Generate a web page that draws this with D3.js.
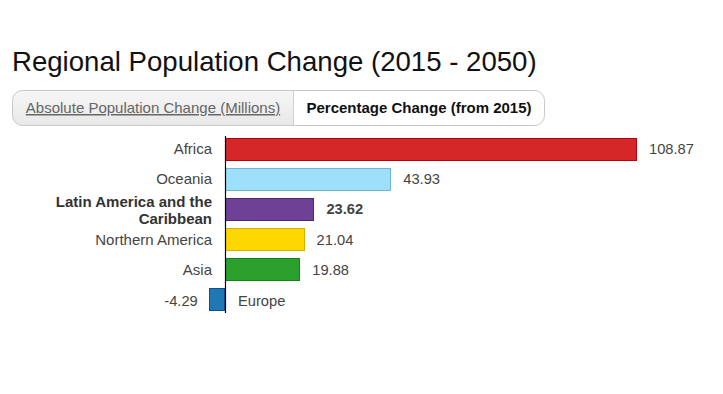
<!DOCTYPE html>
<html><head><meta charset="utf-8">
<script src="https://cdn.jsdelivr.net/npm/d3@7"></script>
<style>
body{margin:0;background:#fff;font-family:"Liberation Sans",Arial,sans-serif;}
</style></head>
<body>
<svg id="c" width="723" height="394"></svg>
<script>
const regions = ["Africa","Oceania","Latin America and the Caribbean","Northern America","Asia","Europe"];
const values = [108.87, 43.93, 23.62, 21.04, 19.88, -4.29];
const fills = ["#d62728","#9edffb","#6e4196","#ffd700","#2ca02c","#1f77b4"];
const strokes = ["#b5000d","#6fb3d9","#4b2a73","#d9b000","#1a7f1a","#0f4f8c"];
const highlighted = "Latin America and the Caribbean";
const tabs = ["Absolute Population Change (Millions)","Percentage Change (from 2015)"];

const fmt = v => d3.format(".2f")(v).replace("\u2212","-");
const svg = d3.select("#c");
svg.append("text").attr("x",12).attr("y",71).attr("font-size",27.6).attr("fill","#111")
  .text("Regional Population Change (2015 - 2050)");

// tabs
const tg = svg.append("g");
tg.append("defs").append("linearGradient").attr("id","tabg").attr("x1",0).attr("x2",0).attr("y1",0).attr("y2",1)
  .selectAll("stop").data([["0%","#f6f6f6"],["100%","#e8e8e8"]]).join("stop")
  .attr("offset",d=>d[0]).attr("stop-color",d=>d[1]);
const tx0=12.5, tx1=293.5, tx2=544.5, ty0=90.5, ty1=125.5, r=10;
tg.append("path").attr("d",`M${tx1},${ty0} H${tx0+r} A${r},${r} 0 0 0 ${tx0},${ty0+r} V${ty1-r} A${r},${r} 0 0 0 ${tx0+r},${ty1} H${tx1} Z`)
  .attr("fill","url(#tabg)");
tg.append("path").attr("d",`M${tx0+r},${ty0} H${tx2-r} A${r},${r} 0 0 1 ${tx2},${ty0+r} V${ty1-r} A${r},${r} 0 0 1 ${tx2-r},${ty1} H${tx0+r} A${r},${r} 0 0 1 ${tx0},${ty1-r} V${ty0+r} A${r},${r} 0 0 1 ${tx0+r},${ty0} Z`)
  .attr("fill","none").attr("stroke","#c8c8c8");
tg.append("line").attr("x1",tx1).attr("x2",tx1).attr("y1",ty0).attr("y2",ty1).attr("stroke","#d0d0d0");
tg.append("text").attr("x",(tx0+tx1)/2).attr("y",113).attr("text-anchor","middle").attr("font-size",15)
  .attr("fill","#666").attr("text-decoration","underline").text(tabs[0]);
tg.append("text").attr("x",(tx1+tx2)/2).attr("y",113).attr("text-anchor","middle").attr("font-size",15)
  .attr("font-weight","bold").attr("fill","#111").text(tabs[1]);

// chart
const x = d3.scaleLinear().domain([0, 108.87]).range([225, 637]);
const y = d3.scaleBand().domain(regions).range([134, 315]).paddingInner(0.24).paddingOuter(0.12);
const g = svg.append("g");
const data = regions.map((r,i)=>({r, v:values[i], f:fills[i], s:strokes[i]}));
g.selectAll("rect").data(data).join("rect")
  .attr("x",d=>Math.round(x(Math.min(0,d.v)))+0.5).attr("y",d=>Math.round(y(d.r))+0.5)
  .attr("width",d=>Math.round(Math.abs(x(d.v)-x(0)))-1).attr("height",Math.round(y.bandwidth())-1)
  .attr("fill",d=>d.f).attr("stroke",d=>d.s).attr("stroke-width",1);

// category labels
data.forEach(d=>{
  const cy = y(d.r)+y.bandwidth()/2;
  const bold = d.r===highlighted;
  if (d.v>=0){
    const t = g.append("text").attr("x",212).attr("text-anchor","end").attr("font-size",15)
      .attr("fill", bold?"#333":"#444").attr("font-weight",bold?"bold":"normal");
    if (bold){
      t.append("tspan").attr("x",212).attr("y",cy-2).text("Latin America and the");
      t.append("tspan").attr("x",212).attr("y",cy+15).text("Caribbean");
    } else {
      t.attr("y",cy+5).text(d.r);
    }
    g.append("text").attr("x",x(d.v)+12).attr("y",cy+5).attr("font-size",14.7)
      .attr("fill","#444").attr("font-weight",bold?"bold":"normal").text(fmt(d.v));
  } else {
    g.append("text").attr("x",x(0)+13).attr("y",cy+6).attr("font-size",14.7).attr("fill","#444").text(d.r);
    g.append("text").attr("x",x(d.v)-11).attr("y",cy+6).attr("text-anchor","end").attr("font-size",14.7)
      .attr("fill","#444").text(fmt(d.v));
  }
});
g.append("line").attr("x1",x(0)+0.5).attr("x2",x(0)+0.5).attr("y1",136).attr("y2",313)
  .attr("stroke","#000").attr("stroke-width",1.2);
</script>
</body></html>
